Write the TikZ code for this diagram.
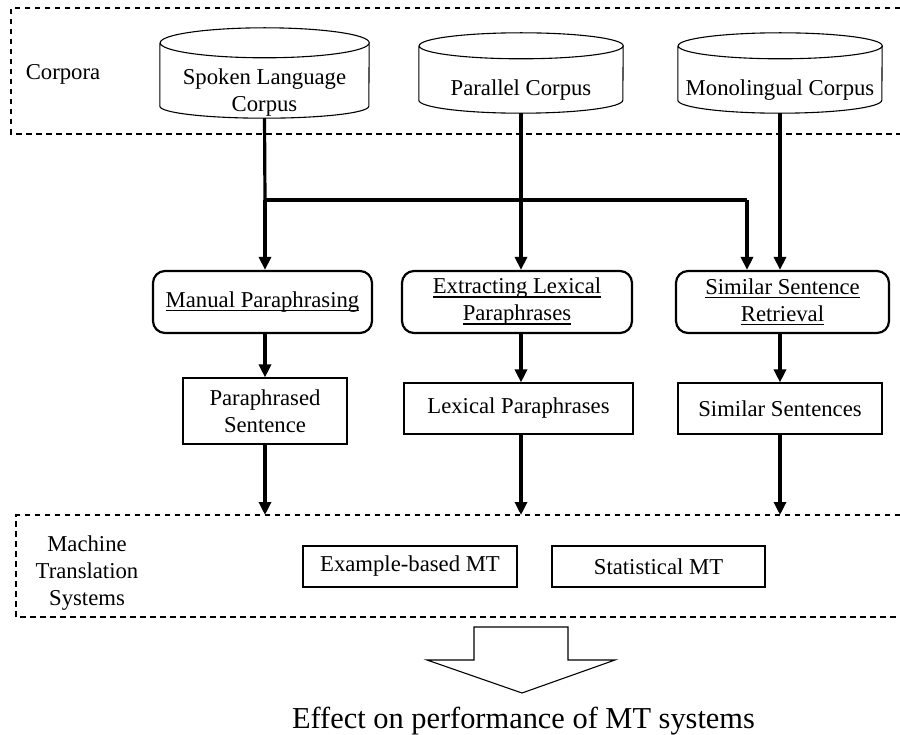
\documentclass[tikz,border=0pt]{standalone}
\usepackage{fontspec}
\setmainfont{Liberation Serif}
\usetikzlibrary{arrows.meta,calc}

% underline that sits just below the baseline (descenders cross it)
\newcommand\ulinetext[1]{\setbox0\hbox{#1}\rlap{\rule[-3.6pt]{\wd0}{1.3pt}}\box0}

\begin{document}
\begin{tikzpicture}[x=1pt,y=-1pt,
  txt/.style={font=\fontsize{22.7}{27}\selectfont, align=center, inner sep=0pt},
  bigtxt/.style={font=\fontsize{30.4}{36}\selectfont, inner sep=0pt},
  region/.style={line width=2pt, dash pattern=on 5.5pt off 4.5pt},
  cylline/.style={line width=1.1pt},
  procbox/.style={draw, line width=2.2pt, rounded corners=12pt, txt},
  databox/.style={draw, line width=1.1pt, txt},
  flow/.style={line width=3.2pt, -{Triangle[length=13pt,width=12pt]}},
  flowline/.style={line width=3.2pt},
]
\useasboundingbox (0,0) rectangle (900,735);

% dashed region outlines (open on the right)
\draw[region] (900,8) -- (11,8) -- (11,134) -- (900,134);
\draw[region] (900,515) -- (16,515) -- (16,617) -- (900,617);

\node[txt] (corpora) at (63,74) {Corpora};
\node[txt] (mts) at (87,573) {Machine\\Translation\\Systems};

% corpora as cylinders: side walls, bottom arc and full top ellipse
\node[minimum width=209pt, minimum height=90pt, inner sep=0pt] (c1) at (264.5,73) {};
\draw[cylline] ([yshift=-15pt]c1.north west) -- ([yshift=12pt]c1.south west)
  arc[start angle=180,end angle=360,x radius=104.5pt,y radius=12pt]
  -- ([yshift=-15pt]c1.north east)
  arc[start angle=0,end angle=360,x radius=104.5pt,y radius=15pt];
\node[txt] (c1t) at (264.5,92.5) {Spoken Language\\Corpus};

\node[minimum width=204pt, minimum height=80pt, inner sep=0pt] (c2) at (521,73) {};
\draw[cylline] ([yshift=-13pt]c2.north west) -- ([yshift=13pt]c2.south west)
  arc[start angle=180,end angle=360,x radius=102pt,y radius=13pt]
  -- ([yshift=-13pt]c2.north east)
  arc[start angle=0,end angle=360,x radius=102pt,y radius=13pt];
\node[txt] (c2t) at (521,90) {Parallel Corpus};

\node[minimum width=204pt, minimum height=80pt, inner sep=0pt] (c3) at (780,73) {};
\draw[cylline] ([yshift=-13pt]c3.north west) -- ([yshift=13pt]c3.south west)
  arc[start angle=180,end angle=360,x radius=102pt,y radius=13pt]
  -- ([yshift=-13pt]c3.north east)
  arc[start angle=0,end angle=360,x radius=102pt,y radius=13pt];
\node[txt] (c3t) at (780,90) {Monolingual Corpus};

% paraphrasing processes
\node[procbox, minimum width=219pt, minimum height=62pt] (mp) at (262.5,302) {\ulinetext{Manual Paraphrasing}};
\node[procbox, minimum width=230pt, minimum height=62pt] (el) at (517,302) {\ulinetext{Extracting Lexical}\\\ulinetext{Paraphrases}};
\node[procbox, minimum width=213pt, minimum height=62pt] (ss) at (782.5,302) {\ulinetext{Similar Sentence}\\\ulinetext{Retrieval}};

% resulting data
\node[databox, minimum width=164pt, minimum height=66pt] (ps) at (265,411) {Paraphrased\\Sentence};
\node[databox, minimum width=229pt, minimum height=51pt] (lp) at (518.5,408.5) {Lexical Paraphrases};
\node[databox, minimum width=204pt, minimum height=51pt] (sn) at (780,408.5) {Similar Sentences};

% MT systems
\node[databox, minimum width=214pt, minimum height=41pt] (eb) at (410,566.5) {Example-based MT};
\node[databox, minimum width=213pt, minimum height=41pt] (st) at (658.5,566.5) {Statistical MT};

% connectors from corpora to processes
\coordinate (split) at (265,200);
\coordinate (turn) at (747,200);
\draw[flowline] (c1.south) -- (split);
\draw[flow] (split) -- (split |- mp.north);
\draw[flowline] (split) -- (turn);
\draw[flow] (turn) -- (turn |- ss.north);
\draw[flow] (c2.south) -- (c2.south |- el.north);
\draw[flow] (c3.south) -- (c3.south |- ss.north);

% processes to outputs
\draw[flow] (mp.south -| ps.north) -- (ps.north);
\draw[flow] (el.south -| c2.south) -- (c2.south |- lp.north);
\draw[flow] (ss.south -| sn.north) -- (sn.north);

% outputs into MT systems region
\coordinate (mt1) at (265,515);
\coordinate (mt2) at (521,515);
\coordinate (mt3) at (780,515);
\draw[flow] (ps.south) -- (mt1);
\draw[flow] (lp.south -| mt2) -- (mt2);
\draw[flow] (sn.south) -- (mt3);

% block arrow and conclusion
\draw[line width=1.1pt] (474,627) -- (568,627) -- (568,660) -- (615,660) -- (522,693)
  -- (427,660) -- (474,660) -- cycle;
\node[bigtxt, anchor=base] (effect) at (523.5,728) {Effect on performance of MT systems};
\end{tikzpicture}
\end{document}
